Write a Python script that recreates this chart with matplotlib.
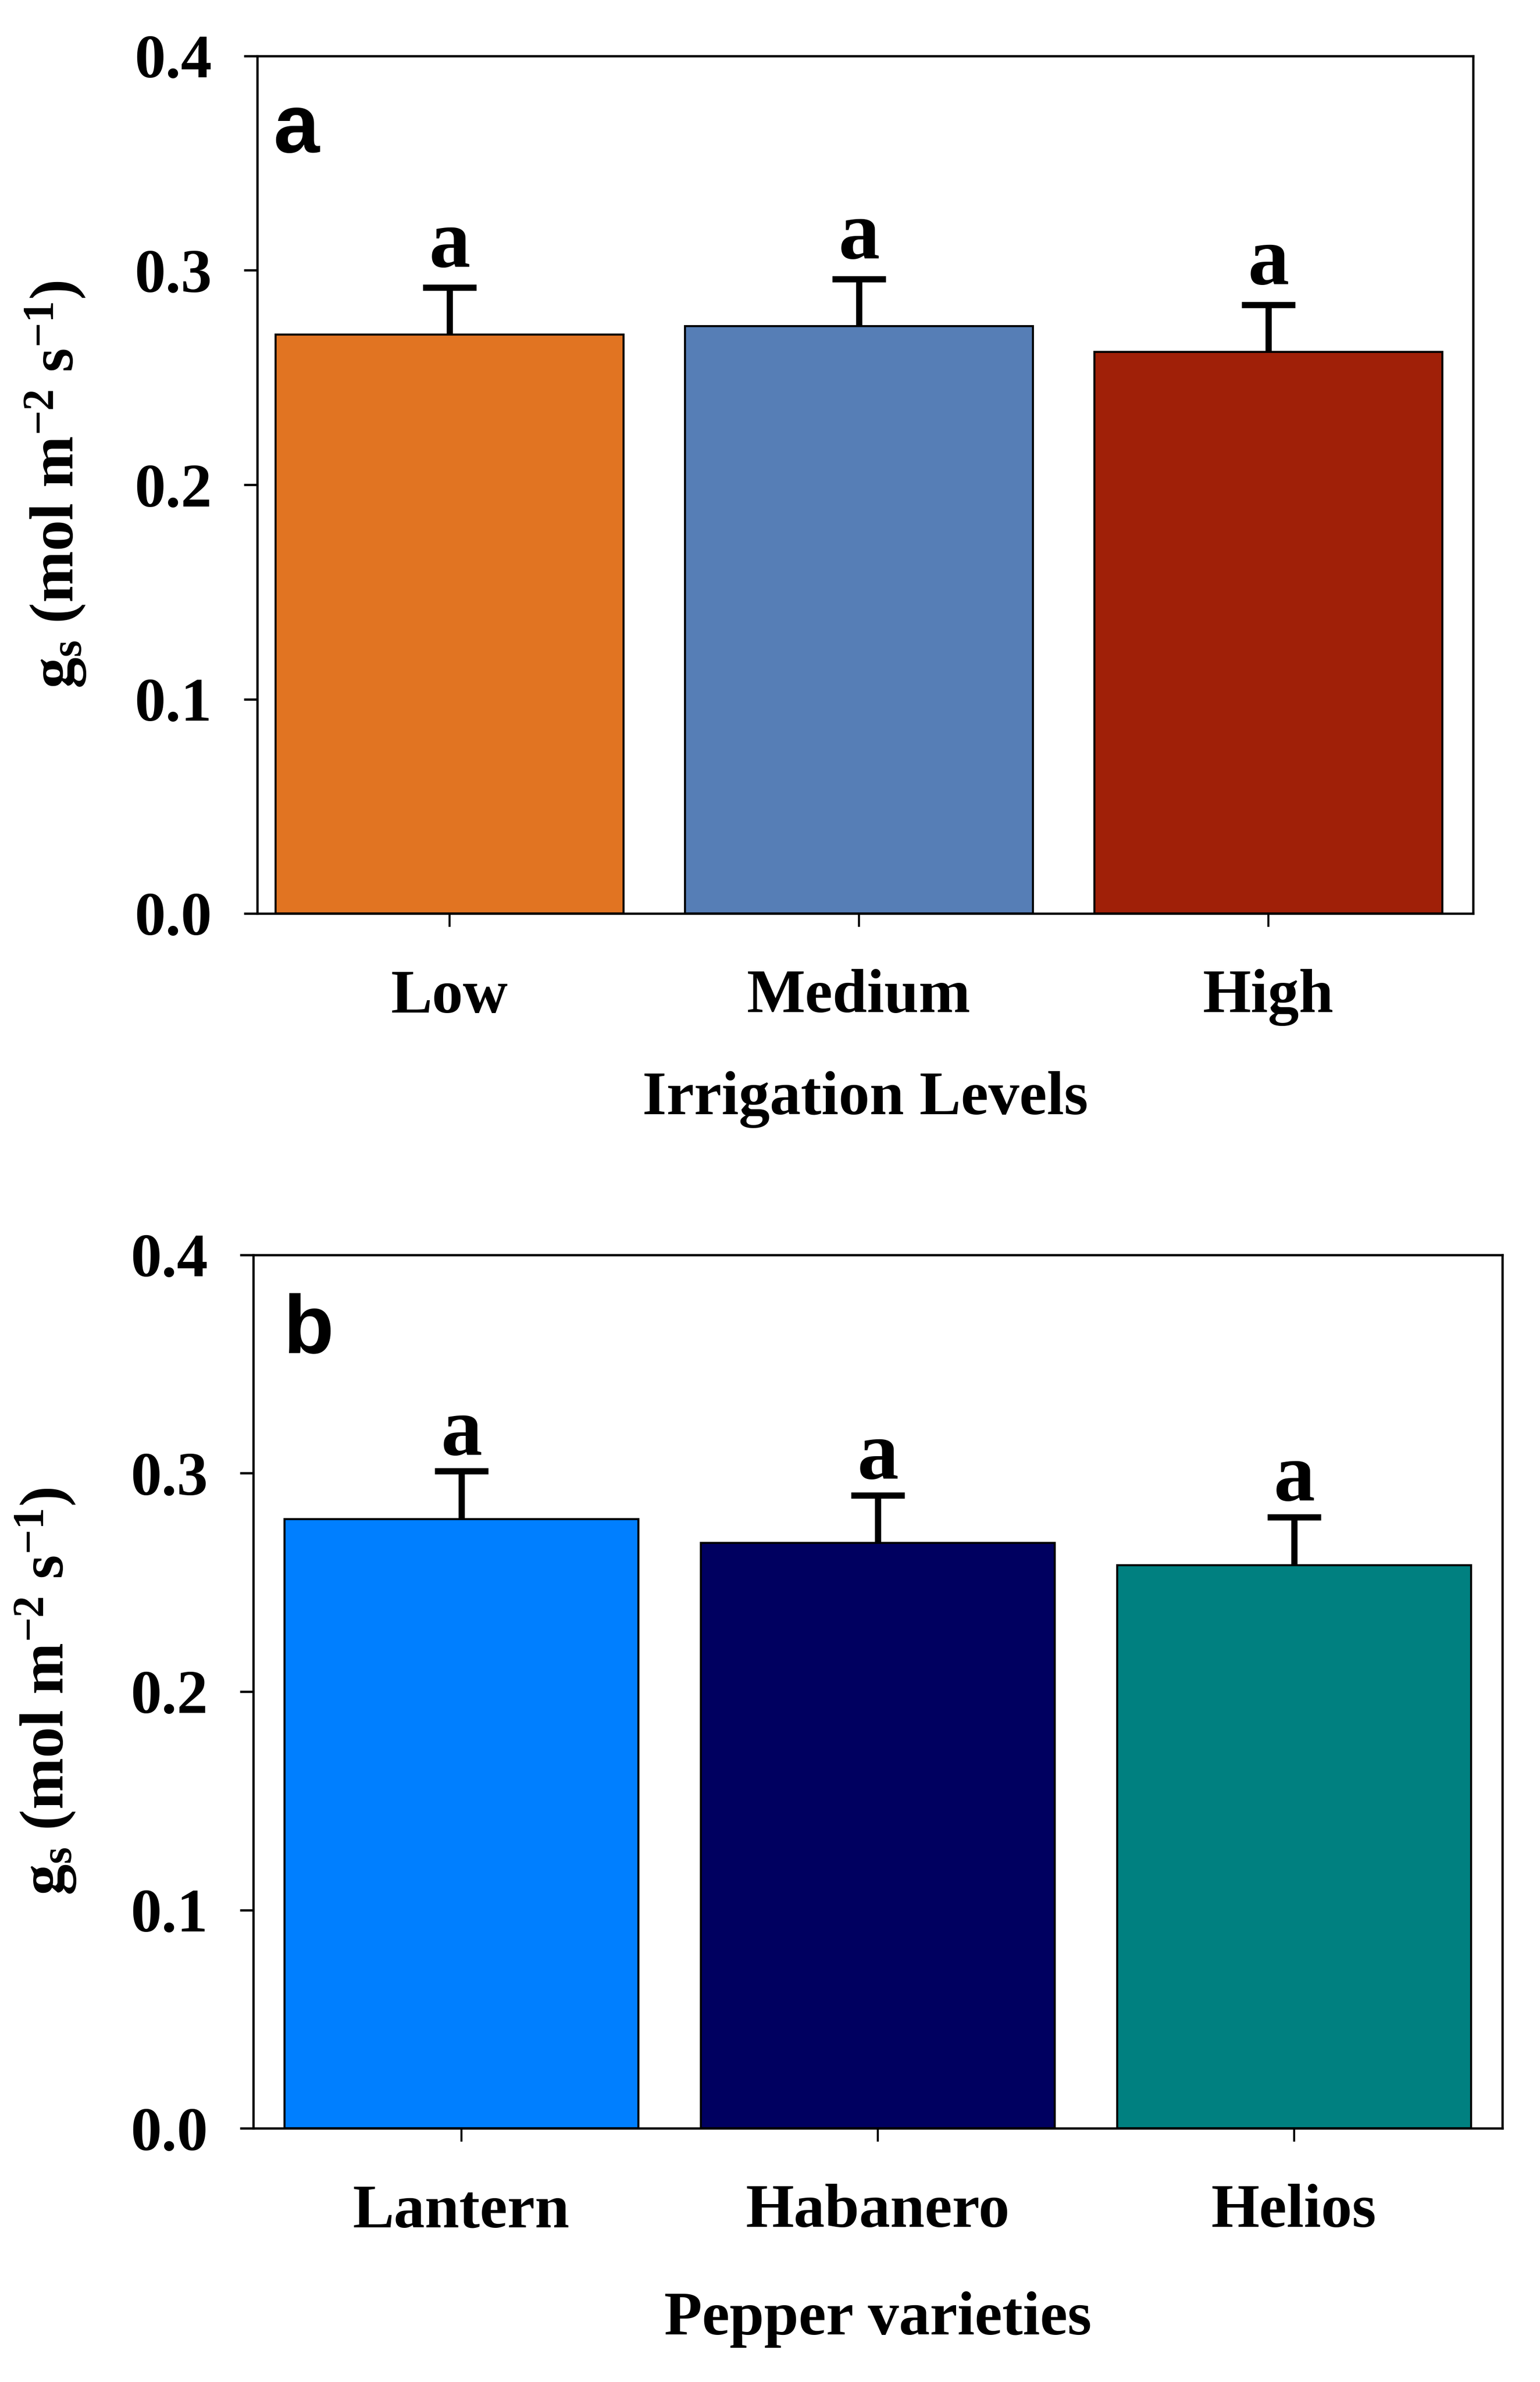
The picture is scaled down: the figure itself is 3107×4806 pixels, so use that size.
import matplotlib
matplotlib.use("Agg")
import matplotlib.pyplot as plt
from matplotlib.ticker import FormatStrFormatter, MultipleLocator

# ---- data ----
irrigation = ["Low", "Medium", "High"]
irrigation_gs = [0.270, 0.274, 0.262]
irrigation_se = [0.022, 0.022, 0.022]
irrigation_letters = ["a", "a", "a"]
irrigation_colors = ["#E17422", "#567EB6", "#A02008"]

varieties = ["Lantern", "Habanero", "Helios"]
variety_gs = [0.279, 0.268, 0.258]
variety_se = [0.022, 0.022, 0.022]
variety_letters = ["a", "a", "a"]
variety_colors = ["#007FFF", "#000060", "#008080"]

YLABEL = r"g$_\mathregular{s}$ (mol m$^\mathregular{-2}$ s$^\mathregular{-1}$)"

plt.rcParams["font.family"] = ["Liberation Serif", "DejaVu Serif"]
plt.rcParams["font.weight"] = "bold"
plt.rcParams["mathtext.fontset"] = "custom"
plt.rcParams["mathtext.rm"] = "Liberation Serif:bold"
plt.rcParams["mathtext.it"] = "Liberation Serif:bold"
plt.rcParams["mathtext.bf"] = "Liberation Serif:bold"


def draw_panel(ax, cats, vals, errs, letters, colors, xlabel, tag,
               left, tag_x, letter_off):
    x = list(range(len(cats)))
    # error bars behind the bars, so only the upper half shows
    ax.errorbar(x, vals, yerr=errs, fmt="none", ecolor="black",
                elinewidth=3, capsize=13, capthick=3, zorder=2)
    ax.bar(x, vals, width=0.85, color=colors, edgecolor="black",
           linewidth=1.0, zorder=3)
    for xi, v, e, s in zip(x, vals, errs, letters):
        ax.annotate(s, (xi, v + e), xytext=(0, letter_off),
                    textcoords="offset points", ha="center", va="baseline",
                    fontsize=40, fontweight="bold", zorder=4)

    ax.set_xlim(left, len(cats) - 0.5)
    ax.set_ylim(0, 0.4)
    ax.yaxis.set_major_locator(MultipleLocator(0.1))
    ax.yaxis.set_major_formatter(FormatStrFormatter("%.1f"))
    ax.set_xticks(x)
    ax.set_xticklabels(cats)
    for sp in ax.spines.values():
        sp.set_linewidth(1.1)
        sp.set_zorder(5)
    ax.tick_params(axis="y", direction="out", length=6.5, width=1.1,
                   pad=15.5, labelsize=30, right=False)
    ax.tick_params(axis="x", direction="out", length=6.5, width=1.0,
                   pad=20.5, labelsize=30, top=False)

    ax.set_xlabel(xlabel, fontsize=30, fontweight="bold")
    ax.set_ylabel(YLABEL, fontsize=30, fontweight="bold")
    ax.text(tag_x, 0.888, tag, transform=ax.transAxes, fontsize=40,
            fontweight="bold", family=["Liberation Sans", "DejaVu Sans"],
            ha="left", va="baseline", zorder=6)


W, H = 3107, 4806
fig = plt.figure(figsize=(W / 300, H / 300), dpi=300)

ax1 = fig.add_axes([519 / W, 1 - 1843 / H, (2972 - 519) / W, (1843 - 113) / H])
draw_panel(ax1, irrigation, irrigation_gs, irrigation_se, irrigation_letters,
           irrigation_colors, "Irrigation Levels", "a", -0.47, 0.013, 10)
ax1.xaxis.set_label_coords(0.5, -0.184)
ax1.yaxis.set_label_coords(-0.139, 0.5)

ax2 = fig.add_axes([511 / W, 1 - 4294 / H, (3031 - 511) / W, (4294 - 2532) / H])
draw_panel(ax2, varieties, variety_gs, variety_se, variety_letters,
           variety_colors, "Pepper varieties", "b", -0.5, 0.024, 8)
ax2.xaxis.set_label_coords(0.5, -0.187)
ax2.yaxis.set_label_coords(-0.140, 0.5)

fig.savefig("out.png", dpi=300)
